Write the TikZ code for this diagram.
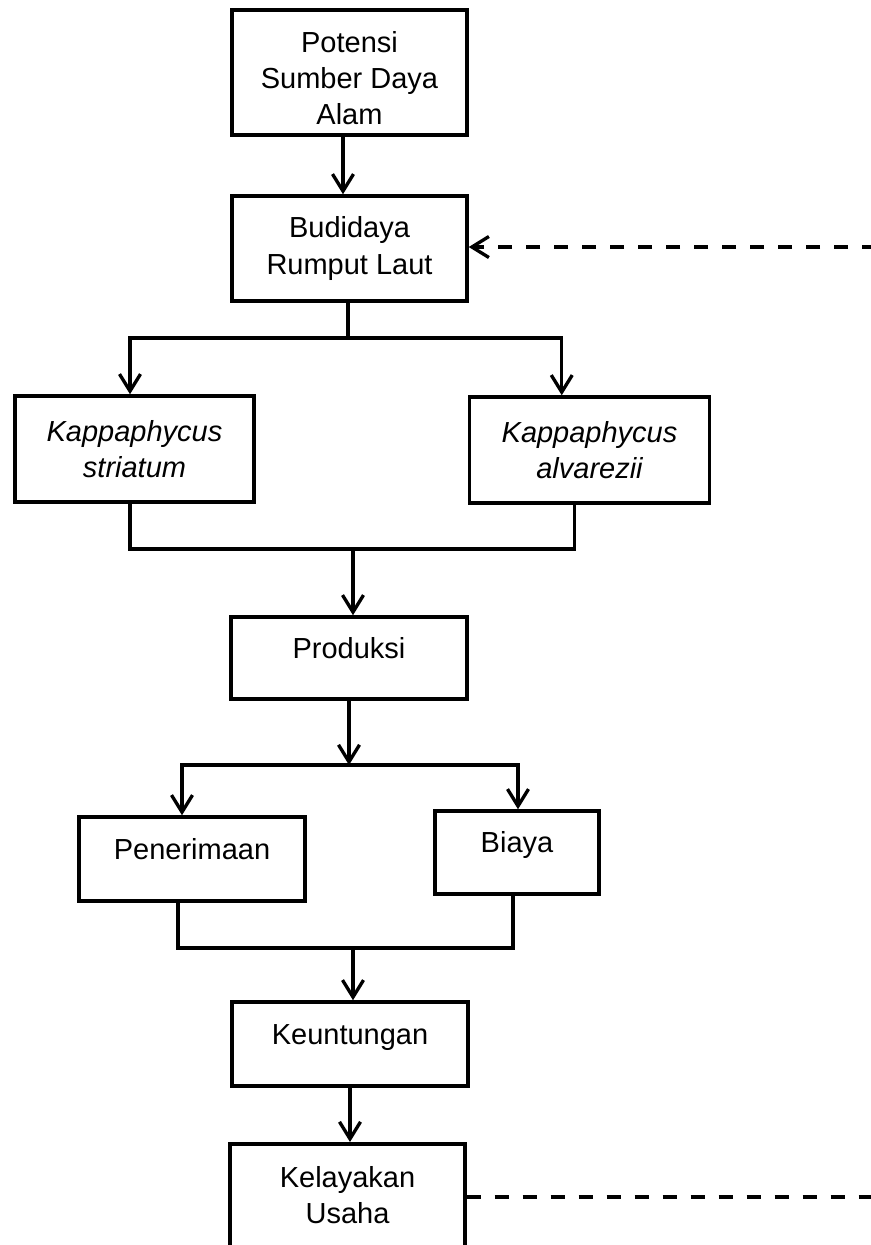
\documentclass[tikz,border=0pt]{standalone}
\usepackage{fontspec}
\setmainfont{Liberation Sans}
\usetikzlibrary{arrows.meta}
\newcommand{\BW}{4.7cm}
\newcommand{\BFONT}{\fontsize{16.5}{20.5}\selectfont}

\begin{document}
\begin{tikzpicture}[
    x=0.02cm, y=-0.02cm,
    >={Straight Barb[length=3.4mm,width=4.2mm]},
    box/.style={draw=black, line width=2pt, minimum width=\BW, inner sep=2pt, align=center, font=\BFONT},
    species/.style={font=\BFONT\itshape},
    lifted/.style={text height=0.42cm, text depth=0.42cm},
    link/.style={draw=black, line width=1.9pt},
    dashlink/.style={draw=black, line width=1.9pt, dash pattern=on 0.29cm off 0.27cm},
  ]
  \useasboundingbox (0,0) rectangle (871,1245);
  \clip (0,0) rectangle (871,1245);

  %% the boxes, top to bottom
  \node[box, minimum height=2.5cm] (potensi) at (349.5,72.5) {\rule{0pt}{0.66cm}Potensi\\Sumber Daya\\Alam};
  \node[box, minimum height=2.1cm] (budidaya) at (349.5,248.5) {Budidaya\\Rumput Laut};
  \node[box, species, minimum width=4.78cm, minimum height=2.12cm] (striatum) at (134.5,449) {Kappaphycus\\striatum};
  \node[box, species, minimum width=4.8cm, minimum height=2.12cm] (alvarezii) at (589.5,450) {Kappaphycus\\alvarezii};
  \node[box, lifted, minimum width=4.72cm, minimum height=1.64cm] (produksi) at (349,658) {Produksi};
  \node[box, lifted, minimum width=4.52cm, minimum height=1.68cm] (terima) at (192,859) {Penerimaan};
  \node[box, lifted, minimum width=3.28cm, minimum height=1.66cm] (biaya) at (517,852.5) {Biaya};
  \node[box, lifted, minimum width=4.72cm, minimum height=1.68cm] (untung) at (350,1044) {Keuntungan};
  \node[box, anchor=north, minimum height=2.8cm, text depth=0.76cm] (layak) at (347.5,1142) {Kelayakan\\Usaha};

  %% branching and joining points
  \coordinate (fork)   at (348,338);
  \coordinate (join)   at (353,549);
  \coordinate (split)  at (349,765);
  \coordinate (meet)   at (353,948);
  \coordinate (rimTop) at (876,247);
  \coordinate (rimBot) at (880,1197);

  \draw[link, ->] ([xshift=-0.13cm]potensi.south) -- ([xshift=-0.13cm]budidaya.north);
  \draw[link] (fork |- budidaya.south) -- (fork);
  \draw[link, ->] (fork) -| ([xshift=-0.09cm]striatum.north);
  \draw[link, ->] (fork) -| ([xshift=1.88cm]alvarezii.north west);

  \draw[link] ([xshift=-0.09cm]striatum.south) |- (join) -| ([xshift=2.14cm]alvarezii.south west);
  \draw[link, ->] (join) -- (join |- produksi.north);

  \draw[link, ->] (produksi) -- (split);
  \draw[link, ->] (split) -| ([xshift=-0.2cm]terima.north);
  \draw[link, ->] (split) -| ([xshift=0.02cm]biaya.north);

  \draw[link] ([xshift=-0.28cm]terima.south) |- (meet) -| ([xshift=-0.08cm]biaya.south);
  \draw[link, ->] (meet) -- (meet |- untung.north);
  \draw[link, ->] (untung.south) -- (untung.south |- layak.north);

  % feedback from the feasibility back to the cultivation
  \draw[dashlink] (layak.east |- rimBot) -- (rimBot);
  \draw[dashlink, ->] (rimTop) -- (budidaya.east |- rimTop);
\end{tikzpicture}
\end{document}
